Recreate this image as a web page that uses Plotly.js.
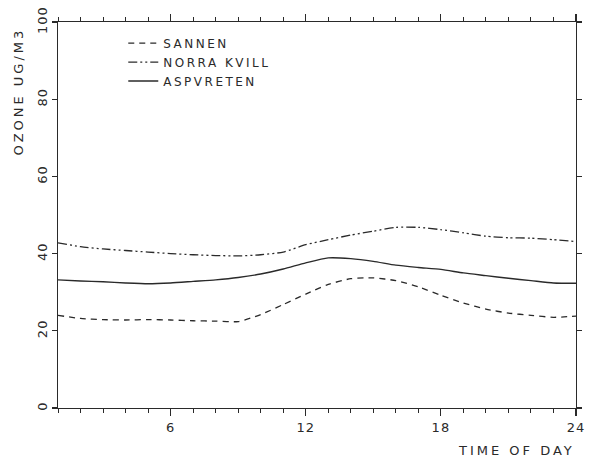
<!DOCTYPE html>
<html>
<head>
<meta charset="utf-8">
<script src="https://cdn.plot.ly/plotly-3.0.1.min.js"></script>
<style>
body { margin: 0; background: #fff; }
#chart { width: 591px; height: 463px; }
.legendtext { letter-spacing: 2.5px; }
.annotation-text { letter-spacing: 3px; }
.xtick text, .ytick text { letter-spacing: 1px; }
</style>
</head>
<body>
<div id="chart"></div>
<script>
var hours = [1,2,3,4,5,6,7,8,9,10,11,12,13,14,15,16,17,18,19,20,21,22,23,24];
var sannen = [24.0,23.2,22.9,22.8,22.9,22.8,22.6,22.5,22.4,24.2,26.8,29.5,32.0,33.5,33.7,33.0,31.4,29.2,27.2,25.6,24.6,24.0,23.5,23.8];
var norraKvill = [42.8,41.8,41.2,40.8,40.4,40.0,39.7,39.5,39.4,39.7,40.4,42.3,43.6,44.8,45.8,46.8,46.8,46.2,45.4,44.5,44.1,44.0,43.6,43.1];
var aspvreten = [33.2,32.9,32.7,32.4,32.2,32.4,32.8,33.2,33.8,34.7,36.0,37.6,38.9,38.7,38.0,37.0,36.4,35.9,35.0,34.3,33.6,33.0,32.4,32.3];
var xTicks = [6,12,18,24];
var yTicks = [0,20,40,60,80,100];
var seriesNames = ["SANNEN","NORRA KVILL","ASPVRETEN"];

var ink = "#2a2a2a";
var font = {family: "DejaVu Sans", size: 12, color: ink};

var traces = [
  {x: hours, y: sannen, name: seriesNames[0], mode: "lines",
   line: {color: ink, width: 1.3, dash: "6px,5px", shape: "spline", smoothing: 0.6}},
  {x: hours, y: norraKvill, name: seriesNames[1], mode: "lines",
   line: {color: ink, width: 1.3, dash: "9px,3px,2px,3px,2px,3px", shape: "spline", smoothing: 0.6}},
  {x: hours, y: aspvreten, name: seriesNames[2], mode: "lines",
   line: {color: ink, width: 1.4, shape: "spline", smoothing: 0.6}}
];

var layout = {
  width: 591, height: 463,
  margin: {l: 58, r: 15, t: 22, b: 55},
  paper_bgcolor: "#fff", plot_bgcolor: "#fff",
  font: font,
  showlegend: true,
  legend: {x: 0.126, y: 0.983, xanchor: "left", yanchor: "top",
           bgcolor: "rgba(0,0,0,0)", font: {family: "DejaVu Sans", size: 12, color: ink},
           tracegroupgap: 0},
  xaxis: {range: [1, 24], tickvals: xTicks, ticktext: xTicks.map(String),
          ticks: "outside", ticklen: 7, tickwidth: 1.2, tickcolor: ink,
          minor: {dtick: 1, tick0: 0, ticks: "outside", ticklen: 4, tickcolor: ink, tickwidth: 1},
          showline: true, linecolor: ink, linewidth: 1.3, mirror: "ticks",
          showgrid: false, zeroline: false,
          tickfont: {family: "DejaVu Sans", size: 13, color: ink}},
  yaxis: {range: [0, 100], tickvals: yTicks, ticktext: yTicks.map(String),
          ticks: "outside", ticklen: 5, tickwidth: 1.2, tickcolor: ink,
          tickangle: -90,
          showline: true, linecolor: ink, linewidth: 1.3, mirror: "ticks",
          showgrid: false, zeroline: false,
          tickfont: {family: "DejaVu Sans", size: 13, color: ink}},
  annotations: [
    {text: "OZONE UG/M3", xref: "paper", yref: "paper", x: -0.077, y: 0.82,
     xanchor: "center", yanchor: "middle", textangle: -90, showarrow: false,
     font: {family: "DejaVu Sans", size: 13, color: ink}},
    {text: "TIME OF DAY", xref: "paper", yref: "paper", x: 0.886, y: -0.109,
     xanchor: "center", yanchor: "middle", showarrow: false,
     font: {family: "DejaVu Sans", size: 13, color: ink}}
  ]
};

Plotly.newPlot("chart", traces, layout, {staticPlot: true, displayModeBar: false});
</script>
</body>
</html>
